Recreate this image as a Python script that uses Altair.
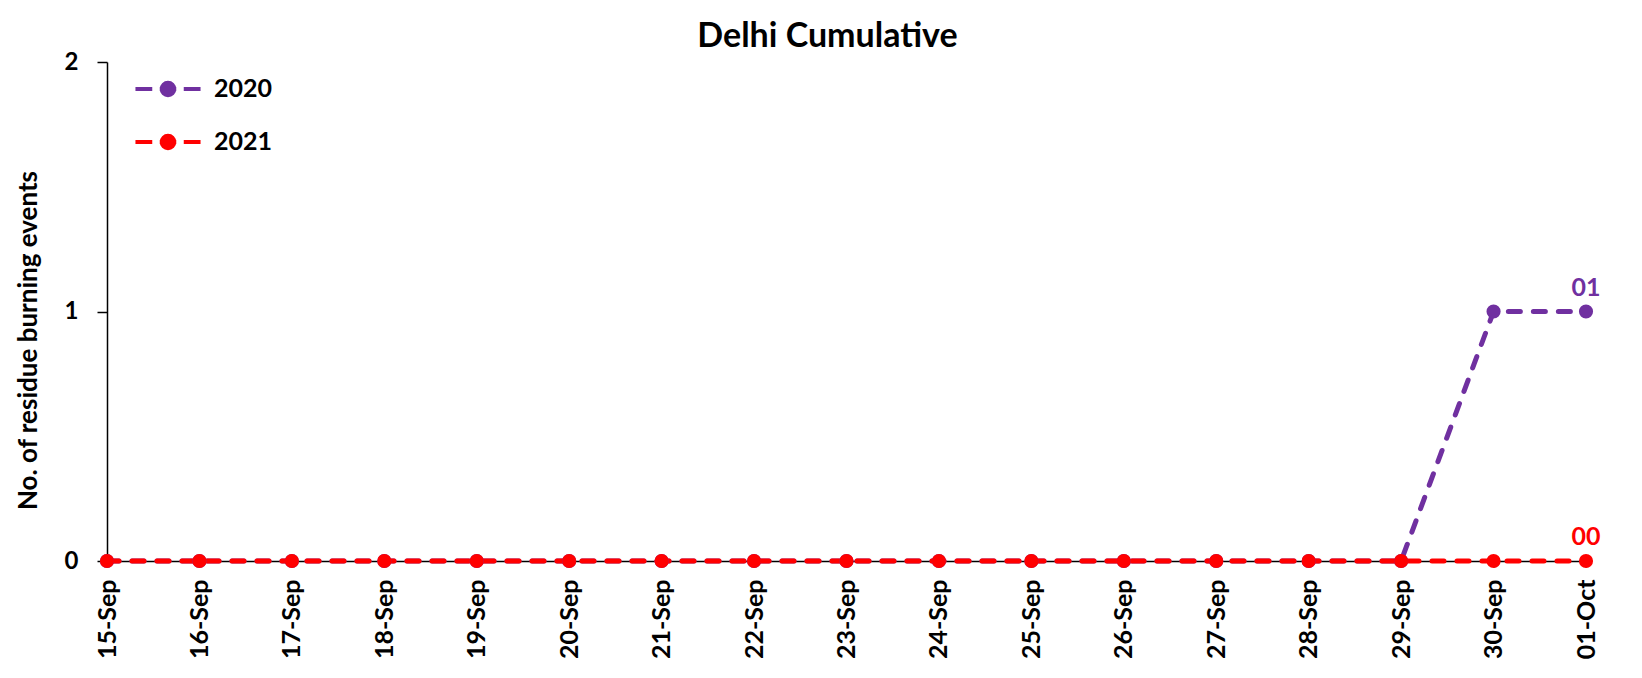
import altair as alt
import pandas as pd

dates = ["15-Sep", "16-Sep", "17-Sep", "18-Sep", "19-Sep", "20-Sep", "21-Sep", "22-Sep",
         "23-Sep", "24-Sep", "25-Sep", "26-Sep", "27-Sep", "28-Sep", "29-Sep", "30-Sep", "01-Oct"]
values_2020 = [0, 0, 0, 0, 0, 0, 0, 0, 0, 0, 0, 0, 0, 0, 0, 1, 1]
values_2021 = [0, 0, 0, 0, 0, 0, 0, 0, 0, 0, 0, 0, 0, 0, 0, 0, 0]
years = ["2020", "2021"]
colors = ["#7030A0", "#FF0000"]
y_ticks = [0.0, 1.0, 2.0]

rows = []
for i, d in enumerate(dates):
    rows.append({"date": d, "year": "2020", "value": values_2020[i], "order": i})
for i, d in enumerate(dates):
    rows.append({"date": d, "year": "2021", "value": values_2021[i], "order": i})
df = pd.DataFrame(rows)

FONT = "Lato"

r = [0.1, 0.25, 0.42]
circle = " ".join(
    f"M{-rr},0 A{rr},{rr} 0 1,0 {rr},0 A{rr},{rr} 0 1,0 {-rr},0" for rr in r
)
legend_path = "M-2.17,0 H-1.05 M-0.55,0 H0.55 M1.05,0 H2.17 " + circle

x_enc = alt.X("date:O", sort=dates,
              scale=alt.Scale(type="point", padding=0),
              axis=alt.Axis(title=None, labelAngle=-90, labelFontSize=25,
                            labelPadding=12, tickSize=6, labelFont=FONT,
                            labelFontWeight="bold", labelColor="black",
                            domainColor="black", tickColor="black",
                            domainWidth=1.5, tickWidth=1.5))
y_enc = alt.Y("value:Q",
              scale=alt.Scale(domain=[0, 2], nice=False),
              axis=alt.Axis(title="No. of residue burning events", values=y_ticks,
                            format=".0f",
                            grid=False, tickSize=10, labelPadding=19,
                            labelOverlap=False, labelFontSize=24, labelFont=FONT,
                            labelFontWeight="bold",
                            labelColor="black", domainColor="black", tickColor="black",
                            domainWidth=1.5, tickWidth=1.5,
                            titleFont=FONT, titleFontSize=26, titleFontWeight="bold",
                            titleColor="black", titleX=-79, titleY=278,
                            titleAngle=-90, titleAlign="center", titleBaseline="middle"))
color_scale = alt.Scale(domain=years, range=colors)
color_enc = alt.Color("year:N", scale=color_scale,
                      legend=alt.Legend(title=None, orient="none", legendX=44, legendY=10,
                                        symbolType=legend_path, symbolSize=900,
                                        symbolStrokeWidth=4, symbolDash=[1000, 1],
                                        labelFont=FONT, labelFontSize=25,
                                        labelFontWeight="bold", labelColor="black",
                                        labelOffset=29, rowPadding=21, padding=0))

lines = alt.Chart(df).mark_line(
    strokeDash=[12, 13], strokeWidth=5, strokeCap="round",
    point=alt.OverlayMarkDef(filled=True, size=200, opacity=1)
).encode(x=x_enc, y=y_enc, color=color_enc, order="order:Q")

labels = alt.Chart(df).transform_filter(
    alt.datum.date == dates[-1]
).mark_text(fontSize=25, font=FONT, fontWeight="bold", dy=-16, baseline="alphabetic",
            align="center").encode(
    x=x_enc,
    y=y_enc,
    text=alt.Text("value:Q", format="02d"),
    color=color_enc,
)

chart = alt.layer(lines, labels).properties(
    width=1479, height=499,
    background="white",
    title=alt.TitleParams("Delhi Cumulative", font=FONT, fontSize=34, fontWeight="bold",
                          color="black", anchor="middle", offset=8, dx=-19, dy=12),
    autosize=alt.AutoSizeParams(type="none"),
    padding={"left": 99, "top": 54, "right": 48, "bottom": 109},
).configure_view(stroke=None)

chart.save("out.html", embed_options={"renderer": "svg", "actions": False})
